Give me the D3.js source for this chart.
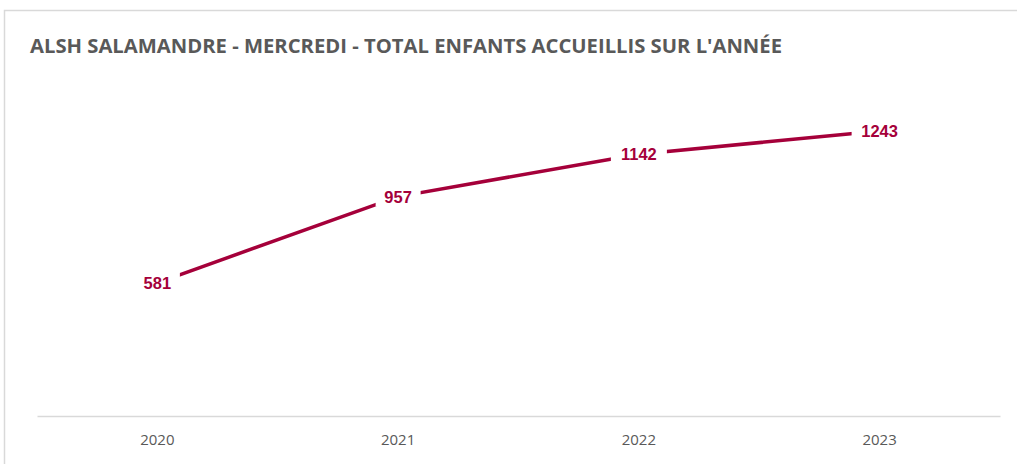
<html>
  <head>
    <meta charset="utf-8" />
    <script src="https://d3js.org/d3.v7.min.js"></script>
    <style>
      body {
        margin: 0;
        background: #fff;
      }
    </style>
  </head>
  <body>
    <svg id="chart" width="1017" height="464"></svg>
    <script>
      var years = ["2020", "2021", "2022", "2023"];
      var totals = [581, 957, 1142, 1243];
      var yMax = 1400;

      var svg = d3.select("#chart"),
        margin = { top: 95, bottom: 48, left: 37, right: 17 },
        width = +svg.attr("width"),
        height = +svg.attr("height");

      // chart frame (cut off at right / bottom like the screenshot)
      svg
        .append("rect")
        .attr("x", 4.5)
        .attr("y", 10.5)
        .attr("width", 1030)
        .attr("height", 480)
        .attr("fill", "#fff")
        .attr("stroke", "#d9d9d9")
        .attr("stroke-width", 1.5);

      svg
        .append("text")
        .attr("x", 30)
        .attr("y", 53)
        .attr("fill", "#595959")
        .attr("font-family", "'Liberation Sans Narrow', 'Open Sans', sans-serif")
        .attr("font-weight", "bold")
        .attr("font-size", "20px")
        .attr("textLength", 752)
        .attr("lengthAdjust", "spacingAndGlyphs")
        .text("ALSH SALAMANDRE - MERCREDI - TOTAL ENFANTS ACCUEILLIS SUR L'ANNÉE");

      var x = d3
        .scaleBand()
        .domain(years)
        .range([margin.left, width - margin.right]);

      var y = d3
        .scaleLinear()
        .domain([0, yMax])
        .range([height - margin.bottom, margin.top]);

      var xAxis = svg
        .append("g")
        .attr("transform", "translate(0," + y(0) + ")")
        .call(d3.axisBottom(x).tickSize(0).tickPadding(18));

      xAxis.select(".domain").attr("stroke", "#d9d9d9").attr("stroke-width", 1.5);
      xAxis
        .selectAll("text")
        .attr("fill", "#595959")
        .attr("font-family", "'Liberation Sans Narrow', 'Open Sans', sans-serif")
        .attr("font-size", "15px");

      var data = years.map(function (d, i) {
        return { year: d, value: totals[i] };
      });

      var line = d3
        .line()
        .x(function (d) {
          return x(d.year) + x.bandwidth() / 2;
        })
        .y(function (d) {
          return y(d.value);
        });

      svg
        .append("path")
        .datum(data)
        .attr("fill", "none")
        .attr("stroke", "#a5003a")
        .attr("stroke-width", 3.5)
        .attr("d", line);

      var labels = svg
        .selectAll(".lbl")
        .data(data)
        .enter()
        .append("g")
        .attr("class", "lbl")
        .attr("transform", function (d) {
          return "translate(" + (x(d.year) + x.bandwidth() / 2) + "," + y(d.value) + ")";
        });

      labels
        .append("rect")
        .attr("x", function (d) {
          return -String(d.value).length * 5.5 - 6;
        })
        .attr("y", -10)
        .attr("width", function (d) {
          return String(d.value).length * 11 + 12;
        })
        .attr("height", 20)
        .attr("fill", "#fff");

      labels
        .append("text")
        .attr("text-anchor", "middle")
        .attr("dy", "0.36em")
        .attr("fill", "#a5003a")
        .attr("font-family", "'Liberation Sans', Arial, sans-serif")
        .attr("font-weight", "bold")
        .attr("font-size", "16.5px")
        .text(function (d) {
          return d.value;
        });
    </script>
  </body>
</html>
